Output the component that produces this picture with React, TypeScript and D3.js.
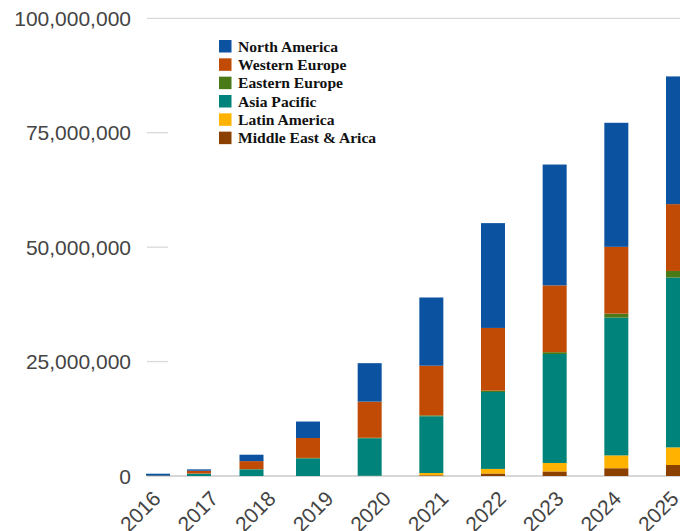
import React from "react";
import * as d3 from "d3";

// Values in millions
const years = [2016, 2017, 2018, 2019, 2020, 2021, 2022, 2023, 2024, 2025];
const northAmerica = [0.4, 0.3, 1.4, 3.6, 8.4, 14.9, 22.9, 26.4, 27.1, 27.9];
const westernEurope = [0.05, 0.6, 1.75, 4.35, 7.9, 10.85, 13.7, 14.6, 14.6, 14.6];
const easternEurope = [0, 0.05, 0.05, 0.1, 0.1, 0.2, 0.3, 0.4, 0.87, 1.45];
const asiaPacific = [0.05, 0.5, 1.45, 3.85, 8.2, 12.4, 16.8, 23.8, 30.1, 37.1];
const latinAmerica = [0, 0, 0, 0, 0.05, 0.5, 1.0, 1.85, 2.8, 3.85];
const middleEastAfrica = [0, 0, 0, 0, 0, 0.15, 0.55, 1.0, 1.7, 2.4];

const seriesNames = [
  "North America",
  "Western Europe",
  "Eastern Europe",
  "Asia Pacific",
  "Latin America",
  "Middle East & Arica",
];
const seriesColors = ["#0b52a0", "#c14a05", "#4a7a18", "#00837a", "#ffb300", "#8c4000"];
const yTicks = [0, 25, 50, 75, 100];

export default function App() {
  const W = 680;
  const H = 531;
  const seriesValues = [
    northAmerica,
    westernEurope,
    easternEurope,
    asiaPacific,
    latinAmerica,
    middleEastAfrica,
  ];
  const rows = years.map((y, i) => {
    const r: any = { year: y };
    seriesNames.forEach((n, k) => (r[n] = seriesValues[k][i]));
    return r;
  });
  // stack bottom-up: Middle East first, North America on top
  const stackKeys = [...seriesNames].reverse();
  const stacked = d3.stack().keys(stackKeys)(rows);
  const colorOf = d3.scaleOrdinal<string, string>().domain(seriesNames).range(seriesColors);

  const y = d3.scaleLinear().domain([0, 100]).range([476, 18.3]);
  const xBar = d3
    .scaleLinear()
    .domain([2016, 2017, 2018, 2019, 2025])
    .range([158, 199, 251.5, 308, 678]);
  const xLabel = d3.scalePoint<number>().domain(years).range([162, 680]);
  const barW = 24;
  const fmt = d3.format(",");
  const gridLeft = 147;

  return (
    <svg
      width={W}
      height={H}
      style={{ position: "absolute", left: 0, top: 0, background: "#fff" }}
    >
      {/* gridlines */}
      {yTicks.map((t) => {
        const full = t === 0 || t === 100;
        return (
          <line
            key={"g" + t}
            x1={gridLeft}
            x2={full ? W : 168}
            y1={y(t)}
            y2={y(t)}
            stroke={t === 0 ? "#c8c8c8" : "#d9d9d9"}
            strokeWidth={1.3}
          />
        );
      })}
      {/* y labels */}
      {yTicks.map((t) => (
        <text
          key={"yl" + t}
          x={131}
          y={y(t)}
          dy="0.36em"
          textAnchor="end"
          fontFamily="Liberation Sans, Arial, sans-serif"
          fontSize={21}
          fill="#444"
        >
          {fmt(t * 1e6)}
        </text>
      ))}
      {/* bars */}
      {stacked.map((layer) => (
        <g key={layer.key} fill={colorOf(layer.key)}>
          {layer.map((d, i) => {
            const h = y(d[0]) - y(d[1]);
            if (h <= 0) return null;
            return (
              <rect
                key={i}
                x={xBar(years[i]) - barW / 2}
                y={y(d[1])}
                width={barW}
                height={h}
              />
            );
          })}
        </g>
      ))}
      {/* x labels */}
      {years.map((yr) => (
        <text
          key={"xl" + yr}
          transform={`translate(${xLabel(yr)},${500}) rotate(-45)`}
          textAnchor="end"
          fontFamily="Liberation Sans, Arial, sans-serif"
          fontSize={21}
          fill="#444"
        >
          {yr}
        </text>
      ))}
      {/* legend */}
      <g>
        {seriesNames.map((n, i) => {
          const top = 40 + i * 18.33;
          return (
            <g key={"lg" + n}>
              <rect x={219} y={top} width={12.5} height={12.5} fill={colorOf(n)} />
              <text
                x={238}
                y={top + 11.7}
                fontFamily="Liberation Serif, Times New Roman, serif"
                fontWeight="bold"
                fontSize={15.6}
                fill="#111"
              >
                {n}
              </text>
            </g>
          );
        })}
      </g>
    </svg>
  );
}
